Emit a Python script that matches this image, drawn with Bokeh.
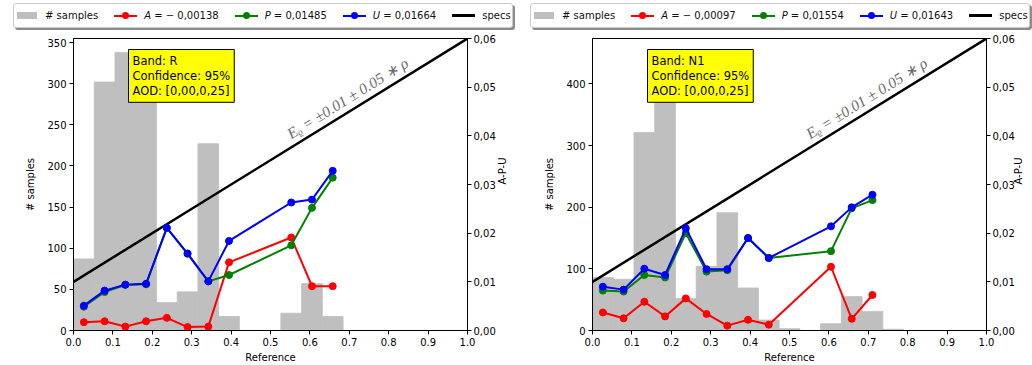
import math
import numpy as np
from bokeh.plotting import figure
from bokeh.layouts import row, column
from bokeh.models import (Range1d, LinearAxis, FixedTicker, CustomJSTickFormatter,
                          Label, Div)
from bokeh.embed import file_html
from bokeh.resources import INLINE

# Reference reflectance histogram bins (19 equal bins on [0, 1])
N_BINS = 19
BIN_EDGES = np.linspace(0.0, 1.0, N_BINS + 1)
BIN_CENTERS = (BIN_EDGES[:-1] + BIN_EDGES[1:]) / 2

# Specification envelope: E = 0.01 + 0.05 * rho
SPEC_OFFSET = 0.01
SPEC_SLOPE = 0.05

X_TICKS = [0.0, 0.1, 0.2, 0.3, 0.4, 0.5, 0.6, 0.7, 0.8, 0.9, 1.0]
APU_TICKS = [0.0, 0.01, 0.02, 0.03, 0.04, 0.05, 0.06]

# ---- Band R ----
R_COUNTS = [87, 302, 338, 336, 34, 47, 227, 17, 0, 0, 21, 57, 17, 0, 0, 0, 0, 0, 0]
R_BINS = [0, 1, 2, 3, 4, 5, 6, 7, 10, 11, 12]
R_A = [0.0017, 0.0019, 0.0008, 0.0019, 0.0026, 0.0007, 0.0008, 0.0140, 0.0191, 0.0091, 0.0091]
R_P = [0.0049, 0.0079, 0.0094, 0.0095, 0.0211, 0.0158, 0.0101, 0.0114, 0.0175, 0.0252, 0.0314]
R_U = [0.0051, 0.0082, 0.0094, 0.0096, 0.0211, 0.0158, 0.0101, 0.0184, 0.0263, 0.0269, 0.0328]
R_SUMMARY = [-0.00138, 0.01485, 0.01664]
R_LEFT_Y_TICKS = [0, 50, 100, 150, 200, 250, 300, 350]

# ---- Band N1 ----
N1_COUNTS = [86, 83, 321, 451, 52, 104, 191, 69, 17, 3, 0, 11, 55, 31, 2, 0, 0, 0, 0]
N1_BINS = [0, 1, 2, 3, 4, 5, 6, 7, 8, 11, 12, 13]
N1_A = [0.0037, 0.0025, 0.0059, 0.0029, 0.0066, 0.0034, 0.0010, 0.0022, 0.0012, 0.0131, 0.0024, 0.0073]
N1_P = [0.0082, 0.0080, 0.0114, 0.0109, 0.0200, 0.0121, 0.0124, 0.0190, 0.0149, 0.0163, 0.0251, 0.0268]
N1_U = [0.0090, 0.0084, 0.0127, 0.0114, 0.0210, 0.0126, 0.0126, 0.0190, 0.0149, 0.0214, 0.0253, 0.0279]
N1_SUMMARY = [-0.00097, 0.01554, 0.01643]
N1_LEFT_Y_TICKS = [0, 100, 200, 300, 400]

FONT = "DejaVu Sans"
BAR_COLOR = "#bfbfbf"
SERIES = (("A", "#ff0000"), ("P", "#008000"), ("U", "#0000ff"))

PANEL_W = 516
LEGEND_H = 32
MAIN_H = 365 - LEGEND_H


def fmt_stat(v):
    s = f"{abs(v):.5f}".replace(".", ",")
    return ("\u2212 " + s) if v < 0 else s


def style_axis(ax):
    ax.major_tick_out = 4
    ax.major_tick_in = 0
    ax.minor_tick_out = 0
    ax.minor_tick_in = 0
    ax.major_tick_line_color = "black"
    ax.axis_line_color = "black"
    ax.major_label_text_font = FONT
    ax.major_label_text_font_size = "10px"
    ax.major_label_text_color = "black"
    ax.major_label_standoff = 3
    ax.axis_label_text_font = FONT
    ax.axis_label_text_font_size = "10px"
    ax.axis_label_text_font_style = "normal"
    ax.axis_label_text_color = "black"


def glyph_html(kind, color):
    slot = "position:relative;display:inline-block;width:23px;height:11px;flex:none;"
    if kind == "patch":
        inner = (f'<span style="position:absolute;left:1.5px;top:2px;width:20px;height:7px;'
                 f'background:{color};"></span>')
    elif kind == "line":
        inner = (f'<span style="position:absolute;left:0;top:4px;width:23px;height:3px;'
                 f'background:{color};"></span>')
    else:
        inner = (f'<span style="position:absolute;left:0;top:4.5px;width:23px;height:2px;'
                 f'background:{color};"></span>'
                 f'<span style="position:absolute;left:8px;top:2px;width:7px;height:7px;'
                 f'border-radius:50%;background:{color};"></span>')
    return f'<span style="{slot}">{inner}</span>'


def make_legend(summary, box_left):
    """Horizontal legend strip with a drop shadow, shown above each panel."""
    entries = [("patch", BAR_COLOR, "# samples")]
    for (key, color), val in zip(SERIES, summary):
        entries.append(("marker", color, f"<i>{key}</i> = {fmt_stat(val)}"))
    entries.append(("line", "black", "specs"))

    parts = []
    for i, (kind, color, label) in enumerate(entries):
        ml = "0" if i == 0 else "16px"
        parts.append(f'<span style="display:inline-flex;align-items:center;margin-left:{ml};">'
                     f'{glyph_html(kind, color)}'
                     f'<span style="margin-left:7px;white-space:nowrap;font-weight:normal;">'
                     f'{label}</span></span>')

    box = (f"position:absolute;left:{box_left}px;top:3px;width:497px;height:23px;"
           "border:1px solid #cccccc;border-radius:3px;background:#ffffff;"
           "box-shadow:2px 2px 0 rgba(0,0,0,0.45);display:flex;align-items:center;"
           "padding-left:1px;box-sizing:content-box;")
    html = (f'<div style="position:relative;width:{PANEL_W}px;height:{LEGEND_H}px;'
            f'font-family:\'{FONT}\';font-size:10px;line-height:11px;color:#111;">'
            f'<div style="{box}">{"".join(parts)}</div></div>')
    return Div(text=html, width=PANEL_W, height=LEGEND_H, margin=0)


def make_panel(band, counts, bins, a_vals, p_vals, u_vals, y_ticks,
               border_left, border_right, right_label_standoff):
    ymax = max(counts) * 1.05
    p = figure(width=PANEL_W, height=MAIN_H, x_range=Range1d(0, 1), y_range=Range1d(0, ymax),
               output_backend="svg", toolbar_location=None,
               min_border_left=border_left, min_border_right=border_right,
               min_border_top=6, min_border_bottom=33)
    p.extra_y_ranges = {"apu": Range1d(0, 0.06)}
    p.xgrid.visible = False
    p.ygrid.visible = False
    p.outline_line_color = "black"
    p.outline_line_alpha = 1.0
    p.background_fill_color = "white"

    # x axis
    xa = p.xaxis[0]
    xa.ticker = FixedTicker(ticks=X_TICKS)
    xa.formatter = CustomJSTickFormatter(code="return tick.toFixed(1);")
    xa.axis_label = "Reference"
    xa.axis_label_standoff = 3
    style_axis(xa)

    # left axis: sample counts
    ya = p.yaxis[0]
    ya.ticker = FixedTicker(ticks=y_ticks)
    ya.axis_label = "# samples"
    ya.axis_label_standoff = 8
    style_axis(ya)

    # right axis: accuracy / precision / uncertainty
    ra = LinearAxis(y_range_name="apu", axis_label="A-P-U")
    ra.ticker = FixedTicker(ticks=APU_TICKS)
    ra.formatter = CustomJSTickFormatter(code="return tick.toFixed(2).replace('.', ',');")
    style_axis(ra)
    ra.major_label_standoff = 2
    ra.axis_label_standoff = right_label_standoff
    ra.axis_label_orientation = math.pi / 2
    p.add_layout(ra, "right")

    # histogram of reference values
    p.quad(left=BIN_EDGES[:-1], right=BIN_EDGES[1:], bottom=0, top=counts,
           fill_color=BAR_COLOR, line_color=BAR_COLOR, line_width=0.8)

    # specification line
    p.line([0.0, 1.0], [SPEC_OFFSET, SPEC_OFFSET + SPEC_SLOPE],
           y_range_name="apu", line_color="black", line_width=2.5)

    xs = BIN_CENTERS[bins]
    for (key, color), vals in zip(SERIES, (a_vals, p_vals, u_vals)):
        p.line(xs, vals, y_range_name="apu", line_color=color, line_width=2)
        p.scatter(xs, vals, y_range_name="apu", size=7, marker="circle",
                  fill_color=color, line_color=color)

    # specification formula along the line
    p.add_layout(Label(x=0.545, y=0.0402, y_range_name="apu",
                       text="E\u1d68 = \u00b10.01 \u00b1 0.05 \u2217 \u03c1",
                       angle=0.555, text_font="Liberation Serif", text_font_style="italic",
                       text_font_size="15.5px", text_color="#6a6a6a",
                       text_baseline="alphabetic", text_align="left"))

    # information box
    p.add_layout(Label(x=55, y=281, x_units="screen", y_units="screen",
                       text=f"Band: {band}\nConfidence: 95%\nAOD: [0,00,0,25]",
                       text_font=FONT, text_font_size="11.5px", text_color="black",
                       text_baseline="top", text_align="left", text_line_height=1.1,
                       background_fill_color="#ffff00", border_line_color="black",
                       border_line_width=1, padding=4))
    return p


left = column(make_legend(R_SUMMARY, 13),
              make_panel("R", R_COUNTS, R_BINS, R_A, R_P, R_U, R_LEFT_Y_TICKS, 73, 48, 4),
              spacing=0)
right = column(make_legend(N1_SUMMARY, 14),
               make_panel("N1", N1_COUNTS, N1_BINS, N1_A, N1_P, N1_U, N1_LEFT_Y_TICKS, 76, 45, 1),
               spacing=0)

layout = row(left, right, spacing=0)
open("out.html", "w").write(file_html(layout, INLINE))
